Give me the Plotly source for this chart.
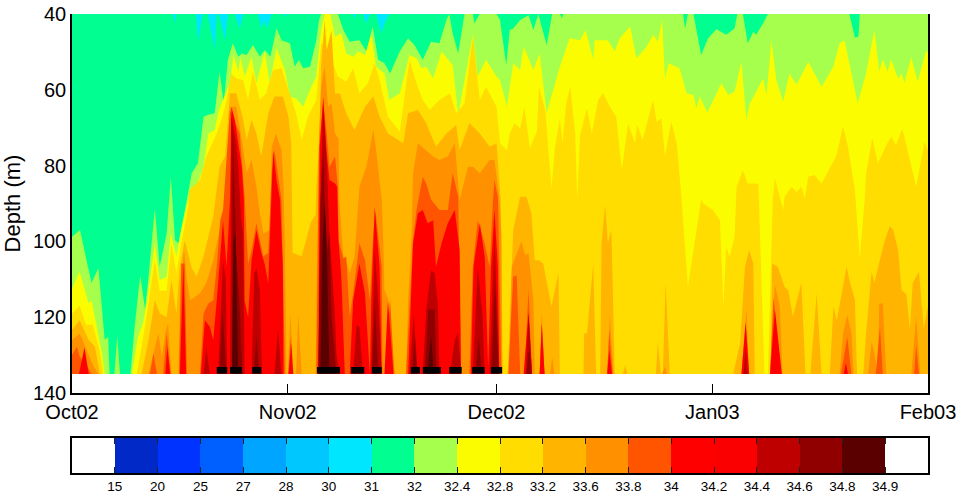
import pandas as pd
import plotly.graph_objects as go

BASE_DATE = "2002-10-01"
BOTTOM_DEPTH = 135
LAST_DAY = 123

LEVEL_30 = [(0,40),(123,40)]
LEVEL_31 = [(0,40),(14.5,40),(14.8,42.5),(15,40),(17.8,40),(18.1,47.3),(18.8,40),(19.5,40),(20.5,49.5),(20.8,40),(21.1,40),(22,46.9),(22.4,40),(23.4,40),(24.1,43.8),(24.6,40),(26.7,40),(27.2,43.8),(27.6,41.6),(28,43.8),(28.7,40),(30.3,40),(30.6,40.7),(30.9,40),(40.4,40),(40.6,41.1),(40.9,40),(41.8,40),(42.3,42.5),(42.8,40),(43.7,40),(44.5,45.1),(44.9,42.5),(45.6,40),(123,40)]
LEVEL_32 = [(0,98.8),(1.15,97),(2.8,111),(3.8,107),(4.7,126),(5.2,125.2),(5.4,135),(6.1,135),(6.5,125),(6.9,135),(8.4,135),(9,122.5),(9.8,108.9),(10.5,118),(11,109.3),(11.9,91.3),(12.6,106.7),(13.6,97.9),(14.2,83),(14.8,99.7),(15.3,100.5),(16.5,89),(16.8,85.6),(17.2,82),(18.1,79.4),(18.9,67.1),(19.6,66.6),(20.5,66.2),(21.2,55.2),(21.8,63.6),(22.4,52.1),(23.1,47.7),(23.9,51.3),(24.4,50.4),(25.1,50.8),(26,48.2),(27,51.3),(27.7,49.5),(28.5,51.3),(29.4,43.8),(30.1,46.9),(31.3,47.7),(32,53.9),(32.6,52.1),(33.2,54.3),(34.2,53.9),(35.1,46.9),(35.5,41.6),(35.8,40),(37.8,40),(38.2,40),(39,44.2),(39.9,47.3),(41.3,46.9),(42.3,49.9),(43.2,43.3),(44,52.1),(44.9,53),(45.7,55.7),(47.1,49.9),(48.3,46.4),(49.2,48.2),(50.4,52.1),(51.6,47.3),(52.8,47.7),(53.8,41.6),(54.2,40),(54.7,45.1),(55.5,50.4),(56.4,40),(57.6,40),(57.8,42.5),(58.6,40),(61,40),(61.5,41.6),(62.4,53.5),(62.9,44.2),(63.4,43.8),(64.4,41.6),(65.6,40.3),(66.3,44.2),(67,40),(68.2,48.2),(69,40),(70.1,40),(70.4,41.1),(70.6,40),(87.8,40),(88.1,43.8),(88.5,40),(89.3,40),(90.4,50.8),(91.4,46.4),(92.6,44),(94,45.5),(95.2,43.8),(95.6,40),(96.4,40),(97.1,47.7),(97.9,44.7),(98.3,45.5),(99.3,42.5),(100,40),(111.7,40),(112.5,46.2),(113,46),(113.2,40),(123,40)]
LEVEL_32_4 = [(0,112.4),(1.1,108),(2.4,116.4),(2.8,115.5),(4.3,129.6),(4.7,135),(8.6,135),(9.5,125),(10.2,121.6),(10.8,115.5),(11.9,100.5),(12.6,110.2),(13.6,109.3),(14.2,97.9),(15,104),(15.7,97),(16.7,89.1),(17.9,85.6),(18.9,80.3),(19.6,71.5),(20.5,70.6),(21.1,65.3),(22.7,58.3),(23.2,50.8),(23.9,55.2),(24.2,51.3),(24.8,56.5),(25.8,51.3),(26.5,58.3),(27.7,49.9),(28.4,58.3),(29.4,49.1),(30.6,54.8),(31.3,61.8),(32.2,62.3),(33.2,64.5),(34.2,60),(35.1,56.5),(35.8,44.2),(36.3,40),(37.1,40),(37.8,46),(38.7,45.1),(39.4,50.4),(40.4,51.3),(41.1,49.9),(42.1,50.8),(43,45.5),(43.7,53.9),(44.9,55.7),(45.6,62.7),(47.1,60.9),(48.5,50.8),(49.5,51.7),(50.2,54.3),(50.9,53.9),(51.9,57),(53.1,49.9),(54.7,53.5),(55.5,66.6),(56.4,57.4),(57.6,45.5),(58.3,56.5),(59.5,52.1),(61,56.5),(61.5,57.4),(62.5,64.5),(63.4,53),(64.4,54.8),(64.9,48.6),(66.3,54.8),(67.2,50.4),(68.2,66.2),(70.1,53.9),(71.5,46.4),(73,46.9),(73.8,44.2),(74.9,52.1),(75.1,46.9),(77,46.9),(78,49.9),(78.7,46.4),(80.2,43.3),(81.1,51.7),(82.6,48.6),(83.5,45.5),(84.2,47.3),(84.8,41.6),(85.2,57),(85.7,53),(87.3,54.3),(88.3,60.9),(89.3,61.4),(89.7,64.9),(90.2,61.8),(91.3,66),(93.3,58.3),(94.3,61.4),(95.2,60.5),(96.2,52.6),(96.9,68),(97.4,63.6),(99.3,57),(99.8,61.4),(100.5,46.9),(101.2,57.4),(102.2,63.1),(103.1,55.7),(104.1,58.7),(105.8,52.6),(107.7,59.2),(109.4,53.9),(110.3,47.7),(111,46.9),(111.7,53),(112.9,63.6),(114.1,55.7),(115.3,44.2),(116,55.2),(116.5,52),(117.2,55.2),(117.7,52),(118.7,57),(119.2,55.7),(119.6,58.3),(120.6,51.4),(121.5,57.9),(122.7,49.9),(123,49.9)]
LEVEL_32_8 = [(0,119),(1.1,117),(2,122),(3,122),(4,129),(4.5,135),(9.3,135),(9.8,130),(10.7,120),(11.9,105),(12.6,113),(13.6,113),(14.3,100.5),(15,108.5),(15.7,100.5),(16.7,91),(16.9,86.4),(18.4,83.8),(19.3,77.6),(20.8,71.5),(21.7,66.6),(22.2,62.7),(22.9,55.7),(23.6,57),(24.6,57.4),(25.3,62.7),(26,55.2),(27,62.7),(27.9,60.9),(28.9,54.8),(30.1,54.3),(30.8,58.3),(32.2,66.2),(33,73.2),(33.9,67.1),(35.1,62.7),(35.8,47.7),(36,47.7),(36.6,57.4),(37,53.9),(37.5,53),(38.2,56.5),(39.4,57.9),(40.4,54.3),(41.3,60.9),(42.5,58.3),(43.5,53),(44.2,57.4),(45.4,67.1),(47.1,71),(48.5,52.1),(49.5,58.3),(50.4,62.7),(51.4,65.3),(52.8,62.7),(54.3,60.9),(55.2,66.2),(56.4,63.6),(57.6,46),(58.6,62.7),(59.5,59.2),(61,64.5),(61.5,74.1),(62.5,76),(62.9,71.5),(63.6,68.8),(64.4,70.2),(65,64.5),(65.8,75.4),(66.8,71),(67.1,59.2),(68,65.3),(68.9,86),(69.4,75),(70.1,67.5),(70.5,74.1),(71,63.6),(71.6,59.2),(72.3,71.5),(72.6,89),(73,71.9),(74,64.9),(74.7,71.5),(75.6,62.7),(76.3,60.9),(77.3,64.5),(78.2,67.1),(79,81.2),(79.9,68.8),(80.9,74.1),(81.2,69.3),(82,73.2),(83.5,62.7),(84,68.4),(84.7,67.5),(85.2,77.6),(86.1,68.4),(86.9,74.1),(87.6,89),(88.5,112),(89.5,100.5),(90.4,89),(90.7,90),(92.1,91.7),(93.1,94.4),(93.6,117),(94,101.4),(94.5,104),(95.2,98.8),(95.4,89),(95.5,85.6),(96.4,81.2),(97.1,84.7),(98.6,84.7),(98.7,89),(99.5,135),(100,135),(100.7,89),(101,83.4),(102.2,91.7),(102.4,88.2),(103.4,85.6),(104.1,87),(104.8,85.6),(105.3,88.7),(105.8,82.9),(106.7,82.5),(107.7,84.7),(108.9,80.7),(109.8,77.6),(110.8,69.7),(111.5,75),(112.5,86.4),(113.2,104.5),(113.9,89),(114.1,82),(115,72.8),(115.8,79.4),(117,74.6),(117.7,72.4),(118.4,74.6),(119.3,70.2),(120.4,78.5),(121.3,85.6),(122.5,73.7),(123,75.9)]
LEVEL_33_2 = [(0,123.4),(1.1,120.8),(2.4,126),(3.3,127.8),(4,135),(10,135),(11,126),(11.9,115.5),(12.6,119),(13.6,120),(14.3,110.2),(15,119),(15.5,106.7),(16.2,99.7),(17.2,107),(17.9,109.3),(18.9,104),(20.3,93.5),(21.2,80.3),(22,77.6),(22.7,60.9),(23.6,60.9),(24.5,67.1),(25.1,73.2),(25.8,68),(26.5,71.5),(27.2,77.6),(28.2,66.2),(29.1,61.8),(30.3,61.8),(31.1,67.1),(31.5,74.1),(31.7,103),(33,104),(33.6,100),(34.3,95),(35,93),(35.1,86.4),(35.6,71.5),(35.8,53.9),(36.3,41.6),(36.6,49.5),(37.3,44.2),(37.8,61),(38.5,61),(39.4,66.2),(40.6,70.6),(42.1,64.5),(43.3,61.8),(44.2,67.1),(45.4,71.5),(47.6,74.1),(48.3,66.2),(49.7,65.3),(50.9,68.8),(52.3,75),(53.8,71.5),(55.2,69.3),(55.7,75.9),(57.1,68.8),(58.6,71.5),(60,75),(61,74.1),(61.6,89),(61.9,135),(62.6,135),(63.4,97),(64.4,88.2),(65.3,88.2),(66,92.6),(66.5,105),(67.1,105),(67.7,105.8),(68.9,117.2),(69.9,108.4),(70.1,135),(73.5,135),(73.6,124.3),(74,124.3),(74.9,105.8),(75.3,135),(75.9,135),(76.1,100.5),(76.6,90.4),(77,100.5),(77.5,97),(78,135),(79.2,135),(79.5,132.6),(79.8,135),(83.9,135),(84.2,126.5),(84.6,135),(84.9,135),(85.3,111),(85.9,135),(95,135),(96,126.9),(96.7,106.7),(97.3,102.3),(97.9,105.8),(98.1,135),(100.4,135),(100.6,105.8),(101.4,106.7),(102.4,112),(102.9,112.8),(103.6,119.9),(104.8,110.9),(105.4,135),(106.1,135),(107,113.7),(107.7,135),(108.9,135),(109.4,117.2),(109.9,120.8),(111.3,106.7),(111.7,110.2),(112.5,115.5),(112.8,135),(113.7,135),(114.1,124.3),(114.9,108),(115.3,111),(115.8,107),(116.8,99.7),(117.5,96),(118,97),(118.7,102.3),(119.2,112.8),(119.9,114),(120.4,123.4),(120.8,111),(121.7,108),(122.4,123),(123,117.2)]
LEVEL_33_6 = [(0,126),(1.1,124.3),(2,128),(3.1,133),(3.8,135),(11,135),(11.7,129.6),(12.4,124.3),(12.9,130.4),(13.4,124.3),(13.8,121.6),(14.3,135),(15.3,135),(15.6,111),(16.1,102.3),(16.5,110.2),(17,115.5),(18.4,113.7),(19.3,111),(20.3,104.9),(21.1,97.9),(21.7,93.5),(22,89),(22.7,64.5),(23.6,64.5),(24.4,73.2),(25.1,82),(25.8,78.5),(26.5,85.6),(27,92.6),(27.5,97.9),(28.4,97),(28.7,75),(29.3,71.5),(30.1,75.9),(30.4,85.6),(30.6,102.3),(30.8,135),(31,135),(31.4,119),(31.8,135),(32.2,135),(32.5,119.4),(33,135),(35,135),(35.4,89),(35.5,71.5),(35.8,59.2),(36.3,53.9),(36.8,64.5),(37.3,63.6),(37.8,71.5),(38.3,73),(38.4,89),(39,104),(39.4,105),(39.9,108.4),(40.6,104),(41.3,85.6),(42.3,80.3),(43.3,70.6),(43.7,75.9),(44.5,89),(44.7,98),(44.9,112.8),(45.4,115),(46.4,135),(48,135),(48.3,115.5),(48.8,97.9),(49,82),(49.7,74.1),(50.9,75.9),(51.9,77.6),(52.8,78.5),(54,77.6),(55,74.1),(55.7,89),(56.9,80.3),(57.6,80.3),(58.6,82),(60,78.5),(60.7,78.5),(61.4,88.2),(61.7,98),(61.8,135),(62.8,135),(63.2,106.7),(63.9,103.2),(64.6,100),(65.1,103.6),(65.6,103.2),(66.3,115.5),(66.5,135),(67.2,135),(67.5,118.6),(67.9,135),(68.7,135),(69,130.4),(69.3,135),(76.9,135),(77.3,119.4),(77.8,135),(84.8,135),(85.2,133),(85.5,135),(96.2,135),(96.9,117.7),(97.3,135),(100.3,135),(101,111.5),(101.7,117.2),(102.1,135),(110.3,135),(110.8,124.3),(111.4,119.4),(112,124.3),(112.3,135),(114.4,135),(114.9,126.5),(115.3,129.6),(115.7,135),(115.8,135),(116,116.4),(116.5,116.4),(117,135),(120.6,135),(121.3,119.9),(121.9,135)]
LEVEL_33_8 = [(0,130),(0.7,127.8),(1.1,130.4),(2.2,133),(2.8,135),(11.2,135),(11.7,129.6),(12.2,135),(13.1,135),(13.6,124.3),(14.2,135),(15.4,135),(15.7,105.8),(16.2,105.8),(16.5,135),(18.4,135),(18.9,119),(19.6,116.4),(20.3,115.5),(20.8,106.7),(21.3,94.4),(21.7,91.7),(22.7,65.3),(24.1,71.5),(24.8,88.2),(25.3,105.8),(25.8,102.3),(26.5,95.2),(27.5,104),(28.2,103),(28.5,89),(28.7,82),(29.1,75.9),(29.6,82),(30.1,89),(30.3,106.7),(30.6,135),(31.1,135),(31.4,125),(31.7,135),(35.1,135),(35.4,89),(35.5,75),(36.1,63.6),(36.6,71.5),(37,80.3),(37.8,77.6),(38.2,85.6),(38.3,99.7),(39,104.5),(39.4,104),(39.9,119.9),(40.4,113.7),(41.3,100.5),(42.1,105),(42.8,115.5),(43.3,97.9),(43.6,92),(44.5,106.7),(44.6,135),(45,135),(45.7,115),(46.3,135),(48,135),(48.5,115.5),(49,99.7),(49.5,91.7),(50.4,83),(50.9,84.7),(51.6,89),(52.8,91.7),(54,91.7),(54.7,82),(55.5,88.2),(55.9,135),(57.1,135),(57.6,106.7),(58.3,94.4),(59.3,100.5),(60,106.7),(60.5,89),(60.7,83.8),(61.2,88.2),(61.4,106.7),(61.7,135),(62.7,135),(63.4,109.3),(63.9,109),(64.4,135),(65,135),(65.6,112.8),(66.1,135),(67.2,135),(67.5,121.6),(67.9,135),(76.9,135),(77.2,123.4),(77.7,135),(96.2,135),(96.8,121.2),(97.3,135),(100.3,135),(100.8,114.6),(101.9,135),(110.5,135),(111.4,125.2),(112,135),(115.5,135),(116.1,122.5),(116.5,135),(121,135),(121.3,127.4),(121.7,135)]
LEVEL_34 = [(1,135),(1.8,128),(2.4,135),(13.4,135),(13.7,127.8),(14.1,135),(15.5,135),(16,105.8),(16.4,135),(18.5,135),(19.1,120.8),(19.8,122.5),(20.3,126),(20.8,115.5),(21.3,103.2),(21.7,94.4),(22.2,106.7),(22.7,89),(22.9,64.5),(23.4,68),(24.4,80.3),(24.7,89),(24.8,115.5),(25.3,120),(25.8,105),(26.5,97),(27.2,103),(27.7,106),(28.2,111),(28.5,94.4),(28.9,76),(29.4,84),(29.9,89),(30.3,106.7),(30.4,135),(31.1,135),(31.5,126.9),(31.8,135),(35.4,135),(35.6,75),(36.1,61.8),(36.6,76.8),(37,83.8),(37.8,84.7),(38.1,85.6),(38.3,100),(38.7,109.3),(39.2,135),(39.9,135),(40.4,115.5),(41.3,105.8),(42.1,113.7),(42.8,135),(43,115.5),(43.5,90.9),(44.2,106.7),(44.5,135),(44.9,135),(45.4,115.5),(46.2,135),(48.3,135),(49,100.5),(49.7,92.6),(50.4,91.7),(51.1,95.2),(51.9,94.4),(52.3,106.7),(53.1,100.5),(54,95.2),(55,91.7),(55.7,102.3),(55.9,135),(57.3,135),(57.7,106.7),(58.6,95.2),(59.3,104),(59.8,133),(60.2,106.7),(60.7,91.7),(61.2,106.7),(61.4,135),(64.9,135),(65.6,118.6),(66.1,135),(67.2,135),(67.5,121.6),(67.9,135),(76.9,135),(77.2,128.7),(77.6,135),(96.2,135),(96.8,121.5),(97.3,135),(100.3,135),(101,118),(102,135),(110.9,135),(111.2,132),(111.5,135)]
LEVEL_34_4 = [(18.9,135),(19.3,127.8),(19.8,135),(21,135),(21.4,120),(21.7,105),(22.1,110),(22.3,135),(22.7,135),(22.9,67),(23.6,74.1),(23.9,80.3),(24.3,94),(24.6,98),(24.8,135),(25.8,135),(26.2,108.4),(26.5,107),(27,113),(27.3,135),(29.1,135),(29.6,123),(30.1,135),(35.4,135),(35.8,83),(36.1,64.5),(36.6,78.5),(36.8,89),(37,98),(37.8,120),(38,130),(38.5,135),(40.4,135),(40.9,122.1),(41.3,122.5),(41.8,135),(43,135),(43.5,102.3),(44,115.5),(44.5,135),(48.5,135),(49.1,119),(49.7,135),(50.4,135),(50.9,118),(51.6,107.6),(52.1,108.4),(52.6,117),(52.8,135),(54.3,135),(55,126),(55.5,124),(55.9,135),(57.6,135),(58.3,106.7),(59,120),(59.3,135),(60,135),(60.7,98),(61.4,135),(65.2,135),(65.6,119),(66.1,135),(96.5,135),(96.8,128),(97.1,135)]
LEVEL_34_6 = [(21.2,135),(21.6,118),(22.2,135),(23,135),(23.1,70.8),(23.4,89),(23.6,102.3),(24.1,118),(24.5,135),(26.1,135),(26.5,125),(26.9,135),(35.4,135),(35.7,89),(36.1,75),(36.4,98),(36.6,103),(37,98),(37.3,120),(38,135),(43.1,135),(43.5,115.5),(44,135),(48.9,135),(49.2,125),(49.6,135),(50.7,135),(51.2,118),(52.1,118),(52.4,135),(58,135),(58.4,125),(58.9,135),(60.3,135),(60.8,110),(61.3,135),(65.3,135),(65.7,128),(66,135)]
LEVEL_34_8 = [(23,135),(23.2,100),(23.5,98),(23.9,135),(35.7,135),(36,100),(36.3,89),(36.6,100),(37,135),(51,135),(51.6,125),(52,135)]

FILL_LEVELS = [LEVEL_30, LEVEL_31, LEVEL_32, LEVEL_32_4, LEVEL_32_8, LEVEL_33_2, LEVEL_33_6,
               LEVEL_33_8, LEVEL_34, LEVEL_34_4, LEVEL_34_6, LEVEL_34_8]
FILL_NAMES = ["30-31", "31-32", "32-32.4", "32.4-32.8", "32.8-33.2", "33.2-33.6", "33.6-33.8",
              "33.8-34", "34-34.4", "34.4-34.6", "34.6-34.8", "34.8-34.9"]
FILL_COLORS = ["#00E6FF", "#00FF90", "#A6FF4C", "#FCFC00", "#FFDD00", "#FFB400", "#FF9000",
               "#FF5500", "#FF0000", "#BE0000", "#900000", "#5A0000"]

EVENT_START = [20.8, 22.7, 25.9, 35.2, 40.1, 43.1, 48.7, 50.4, 54.2, 57.5, 60.2]
EVENT_END = [22.3, 24.4, 27.2, 38.5, 42, 44.5, 50, 53, 56, 59.3, 61.8]
EVENT_DEPTH = 134

TIME_TICKS = ["2002-10-01", "2002-11-01", "2002-12-01", "2003-01-01", "2003-02-01"]
TIME_LABELS = ["Oct02", "Nov02", "Dec02", "Jan03", "Feb03"]
DEPTH_TICKS = [40, 60, 80, 100, 120, 140]

CBAR_LABELS = ["15", "20", "25", "27", "28", "30", "31", "32", "32.4", "32.8", "33.2", "33.6",
               "33.8", "34", "34.2", "34.4", "34.6", "34.8", "34.9"]
CBAR_COLORS = ["#FFFFFF", "#0029C8", "#0033FF", "#0060FF", "#00A5FF", "#00C8FF", "#00E6FF", "#00FF90",
               "#A6FF4C", "#FCFC00", "#FFDD00", "#FFB400", "#FF9000", "#FF5500", "#FF0000", "#FA0000",
               "#BE0000", "#900000", "#5A0000", "#FFFFFF"]
TITLE_TEXT = "(a) Salinity"

W, H = 957, 493
FONT = "Liberation Sans, Arial, sans-serif"
base = pd.Timestamp(BASE_DATE)


def to_dates(days):
    return [base + pd.Timedelta(days=float(d)) for d in days]


fig = go.Figure()
for pts, name, color in zip(FILL_LEVELS, FILL_NAMES, FILL_COLORS):
    days = [0] + [p[0] for p in pts] + [LAST_DAY]
    depths = [BOTTOM_DEPTH] + [p[1] for p in pts] + [BOTTOM_DEPTH]
    fig.add_trace(go.Scatter(x=to_dates(days), y=depths, mode="lines", fill="toself",
                             fillcolor=color, line=dict(width=0, color=color), name=name,
                             hoverinfo="skip", showlegend=False))

ev_x, ev_y = [], []
for s, e in zip(EVENT_START, EVENT_END):
    ev_x += [base + pd.Timedelta(days=s), base + pd.Timedelta(days=e), None]
    ev_y += [EVENT_DEPTH, EVENT_DEPTH, None]
fig.add_trace(go.Scatter(x=ev_x, y=ev_y, mode="lines", line=dict(color="black", width=6.5),
                         showlegend=False, hoverinfo="skip"))

fig.add_trace(go.Bar(x=[i + 0.5 for i in range(len(CBAR_COLORS))], y=[1] * len(CBAR_COLORS), width=1,
                     marker=dict(color=CBAR_COLORS, line=dict(width=0)),
                     xaxis="x2", yaxis="y2", showlegend=False, hoverinfo="skip"))

x0, x1 = 72 / W, 928 / W
fig.update_layout(
    template="none",
    width=W, height=H, margin=dict(l=0, r=0, t=0, b=0, pad=0, autoexpand=False), paper_bgcolor="white", plot_bgcolor="white",
    font=dict(family=FONT, color="black"), bargap=0, showlegend=False,
    annotations=[dict(text=TITLE_TEXT, xref="paper", yref="paper", x=281 / W, y=1.0 - 2 / H,
                      xanchor="left", yanchor="bottom", showarrow=False, font=dict(size=20))],
    xaxis=dict(domain=[x0, x1], range=[TIME_TICKS[0], TIME_TICKS[-1]], tickmode="array",
               tickvals=TIME_TICKS, ticktext=TIME_LABELS, automargin=False,
               ticks="inside", ticklen=9, tickwidth=1, tickcolor="black", showline=True, linecolor="black",
               linewidth=1.5, showgrid=False, zeroline=False, tickfont=dict(size=20), layer="below traces",
               anchor="y"),
    yaxis=dict(domain=[1 - 393 / H, 1 - 14 / H], range=[140, 40], tickmode="array", tickvals=DEPTH_TICKS, ticks="",
               showline=True, mirror=True, linecolor="black", linewidth=1.5, showgrid=False, zeroline=False,
               automargin=False, tickfont=dict(size=20), title=dict(text="Depth (m)", font=dict(size=22), standoff=14),
               layer="below traces", anchor="x"),
    xaxis2=dict(domain=[x0, x1], range=[0, 20], tickmode="array", tickvals=list(range(1, 20)), ticktext=CBAR_LABELS,
                ticks="inside", ticklen=6, tickwidth=1, tickcolor="#222222", mirror="ticks", showline=True,
                linecolor="black", linewidth=1.5, showgrid=False, zeroline=False, tickangle=0, automargin=False,
                tickfont=dict(size=13.5), anchor="y2"),
    yaxis2=dict(domain=[1 - 473 / H, 1 - 438 / H], range=[0, 1], showticklabels=False, ticks="",
                showline=True, mirror=True, linecolor="black", linewidth=1.5, showgrid=False, zeroline=False,
                automargin=False, anchor="x2"),
)
fig.write_html("out.html", config={"displayModeBar": False}, post_script="document.body.style.margin='0';")
